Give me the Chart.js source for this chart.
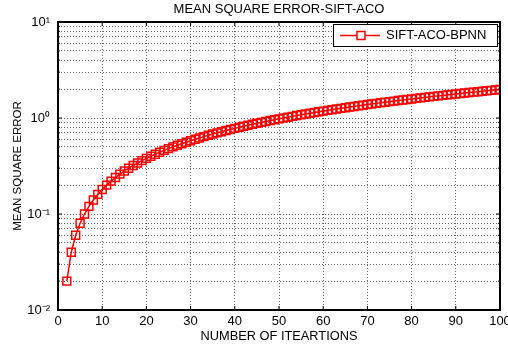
<!DOCTYPE html>
<html>
<head>
<meta charset="utf-8">
<script src="https://cdn.jsdelivr.net/npm/chart.js@4.4.1/dist/chart.umd.min.js"></script>
<style>
  html, body { margin: 0; padding: 0; background: #fff; }
</style>
</head>
<body>
<canvas id="myChart" width="508" height="347"></canvas>
<script>
// data
const iterations = [2, 3, 4, 5, 6, 7, 8, 9, 10, 11, 12, 13, 14, 15, 16, 17, 18, 19, 20,
  21, 22, 23, 24, 25, 26, 27, 28, 29, 30, 31, 32, 33, 34, 35, 36, 37, 38, 39, 40,
  41, 42, 43, 44, 45, 46, 47, 48, 49, 50, 51, 52, 53, 54, 55, 56, 57, 58, 59, 60,
  61, 62, 63, 64, 65, 66, 67, 68, 69, 70, 71, 72, 73, 74, 75, 76, 77, 78, 79, 80,
  81, 82, 83, 84, 85, 86, 87, 88, 89, 90, 91, 92, 93, 94, 95, 96, 97, 98, 99, 100];
const mse = [0.02, 0.04, 0.06, 0.08, 0.10, 0.12, 0.14, 0.16, 0.18, 0.20, 0.22, 0.24, 0.26, 0.28, 0.30, 0.32, 0.34, 0.36, 0.38,
  0.40, 0.42, 0.44, 0.46, 0.48, 0.50, 0.52, 0.54, 0.56, 0.58, 0.60, 0.62, 0.64, 0.66, 0.68, 0.70, 0.72, 0.74, 0.76, 0.78,
  0.80, 0.82, 0.84, 0.86, 0.88, 0.90, 0.92, 0.94, 0.96, 0.98, 1.00, 1.02, 1.04, 1.06, 1.08, 1.10, 1.12, 1.14, 1.16, 1.18,
  1.20, 1.22, 1.24, 1.26, 1.28, 1.30, 1.32, 1.34, 1.36, 1.38, 1.40, 1.42, 1.44, 1.46, 1.48, 1.50, 1.52, 1.54, 1.56, 1.58,
  1.60, 1.62, 1.64, 1.66, 1.68, 1.70, 1.72, 1.74, 1.76, 1.78, 1.80, 1.82, 1.84, 1.86, 1.88, 1.90, 1.92, 1.94, 1.96, 1.98];
const seriesName = 'SIFT-ACO-BPNN';
const xTicks = [0, 10, 20, 30, 40, 50, 60, 70, 80, 90, 100];
const yMajor = [0.01, 0.1, 1, 10];
const yMajorLabels = ['10\u207B\u00B2', '10\u207B\u00B9', '10\u2070', '10\u00B9'];
const yMinorSteps = [2, 3, 4, 5, 6, 7, 8, 9];

const FONT = "'Liberation Sans', Arial, sans-serif";

// all log ticks: majors plus the 2..9 in between
function buildYTicks() {
  const out = [];
  yMajor.forEach((m, i) => {
    out.push({ value: m, major: true });
    if (i < yMajor.length - 1) {
      yMinorSteps.forEach(s => out.push({ value: m * s, major: false }));
    }
  });
  return out;
}

// black box round the plot, with small inward tick marks
const boxPlugin = {
  id: 'box',
  afterDatasetsDraw(chart) {
    const { ctx, chartArea: a, scales } = chart;
    ctx.save();
    ctx.strokeStyle = '#000';
    ctx.lineWidth = 1;
    scales.x.ticks.forEach(t => {
      const px = scales.x.getPixelForValue(t.value);
      ctx.beginPath();
      ctx.moveTo(px, a.bottom); ctx.lineTo(px, a.bottom - 4);
      ctx.moveTo(px, a.top); ctx.lineTo(px, a.top + 4);
      ctx.stroke();
    });
    scales.y.ticks.forEach(t => {
      const py = scales.y.getPixelForValue(t.value);
      const len = t.major ? 4 : 2;
      ctx.beginPath();
      ctx.moveTo(a.left, py); ctx.lineTo(a.left + len, py);
      ctx.moveTo(a.right, py); ctx.lineTo(a.right - len, py);
      ctx.stroke();
    });
    ctx.lineWidth = 2;
    ctx.strokeRect(a.left, a.top, a.right - a.left, a.bottom - a.top);
    ctx.restore();
  }
};

// legend box in the upper right corner, MATLAB style
const legendBox = {
  id: 'legendBox',
  afterDraw(chart) {
    const { ctx, chartArea: a } = chart;
    const ds = chart.data.datasets[0];
    const w = 164, h = 22;
    const x = a.right - w - 3, y = a.top + 2;
    ctx.save();
    ctx.fillStyle = '#fff';
    ctx.fillRect(x, y, w, h);
    ctx.strokeStyle = '#000';
    ctx.lineWidth = 1;
    ctx.strokeRect(x + 0.5, y + 0.5, w, h);
    const cy = y + h / 2 + 0.5;
    ctx.strokeStyle = ds.borderColor;
    ctx.lineWidth = 1.5;
    ctx.beginPath();
    ctx.moveTo(x + 7, cy); ctx.lineTo(x + 47, cy);
    ctx.stroke();
    ctx.fillStyle = '#fff';
    ctx.fillRect(x + 24, cy - 4, 8, 8);
    ctx.strokeRect(x + 24, cy - 4, 8, 8);
    ctx.fillStyle = '#000';
    ctx.font = '13px ' + FONT;
    ctx.textBaseline = 'middle';
    ctx.fillText(ds.label, x + 53, cy);
    ctx.restore();
  }
};

const ctx = document.getElementById('myChart');
new Chart(ctx, {
  type: 'line',
  data: {
    datasets: [{
      label: seriesName,
      data: iterations.map((it, i) => ({ x: it, y: mse[i] })),
      borderColor: '#ff0000',
      backgroundColor: 'rgba(255,255,255,0)',
      borderWidth: 1.5,
      pointStyle: 'rect',
      pointRadius: 5.6,
      pointBorderWidth: 1.5,
      pointBorderColor: '#ff0000',
      pointBackgroundColor: 'rgba(255,255,255,0)',
      tension: 0
    }]
  },
  plugins: [boxPlugin, legendBox],
  options: {
    responsive: false,
    animation: false,
    devicePixelRatio: 1,
    layout: { padding: { left: 0, right: 8, top: 0, bottom: 0 } },
    plugins: {
      legend: { display: false },
      tooltip: { enabled: false },
      title: {
        display: true,
        fullSize: false,
        text: 'MEAN SQUARE ERROR-SIFT-ACO',
        color: '#000',
        font: { family: FONT, size: 13, weight: 'normal' },
        padding: { top: 2, bottom: 4.4 }
      }
    },
    scales: {
      x: {
        type: 'linear',
        min: 0,
        max: 100,
        afterBuildTicks(scale) {
          scale.ticks = xTicks.map(v => ({ value: v }));
        },
        ticks: {
          color: '#000',
          font: { family: FONT, size: 13 },
          padding: 4,
          maxRotation: 0,
          autoSkip: false
        },
        grid: { color: '#666', lineWidth: 1, drawTicks: false },
        border: { display: false, dash: [1, 2] },
        title: {
          display: true,
          text: 'NUMBER OF ITEARTIONS',
          color: '#000',
          font: { family: FONT, size: 12.8 },
          padding: { top: 0, bottom: 2.5 }
        },
        afterFit(scale) {
          scale.height = 37;
          scale.paddingRight = 0;
          scale.paddingLeft = 0;
        }
      },
      y: {
        type: 'logarithmic',
        min: 0.01,
        max: 10,
        afterBuildTicks(scale) {
          scale.ticks = buildYTicks();
        },
        ticks: {
          color: '#000',
          font: { family: FONT, size: 13 },
          padding: 8,
          autoSkip: false,
          callback(value) {
            const i = yMajor.findIndex(m => Math.abs(m - value) < m * 1e-6);
            return i >= 0 ? yMajorLabels[i] : '';
          }
        },
        grid: { color: '#666', lineWidth: 1, drawTicks: false },
        border: { display: false, dash: [1, 2] },
        title: {
          display: true,
          text: 'MEAN SQUARE ERROR',
          color: '#000',
          font: { family: FONT, size: 11.5 },
          padding: { top: 10.5, bottom: 0 }
        },
        afterFit(scale) { scale.width = 58; }
      }
    }
  }
});
</script>
</body>
</html>
